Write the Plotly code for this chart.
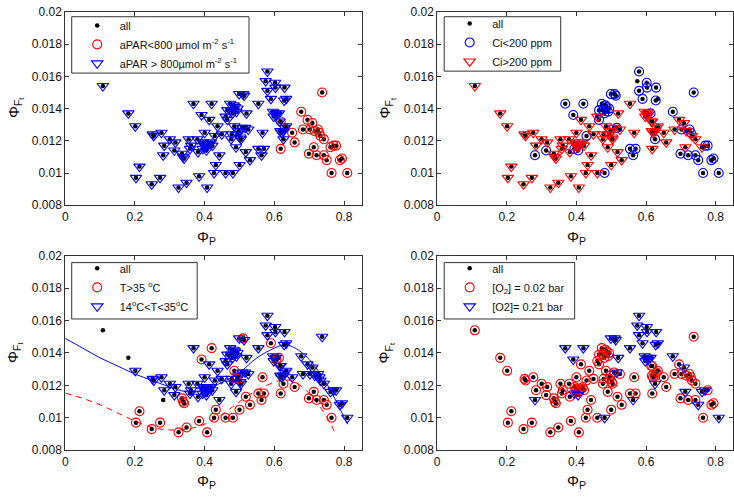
import plotly.graph_objects as go
import numpy as np

# ---------------- data ----------------
x_all = [0.108, 0.181, 0.201, 0.213, 0.203, 0.248, 0.251, 0.254, 0.276, 0.284,
         0.272, 0.281, 0.300, 0.316, 0.313, 0.325, 0.335, 0.341, 0.348, 0.354,
         0.358, 0.368, 0.379, 0.381, 0.384, 0.391, 0.394, 0.395, 0.400, 0.405,
         0.407, 0.408, 0.413, 0.418, 0.420, 0.427, 0.429, 0.432, 0.437, 0.442,
         0.449, 0.460, 0.460, 0.465, 0.473, 0.476, 0.481, 0.485, 0.487, 0.490,
         0.494, 0.494, 0.499, 0.500, 0.502, 0.508, 0.510, 0.513, 0.516, 0.518,
         0.520, 0.525, 0.530, 0.554, 0.554, 0.563, 0.566, 0.570, 0.575, 0.580,
         0.580, 0.590, 0.596, 0.602, 0.603, 0.604, 0.613, 0.618, 0.620, 0.618,
         0.626, 0.628, 0.629, 0.634, 0.630, 0.651, 0.658, 0.677, 0.682, 0.695,
         0.699, 0.702, 0.709, 0.713, 0.716, 0.721, 0.725, 0.729, 0.732, 0.737,
         0.742, 0.742, 0.750, 0.761, 0.764, 0.770, 0.777, 0.788, 0.794, 0.809,
         0.338, 0.400, 0.404, 0.412, 0.422, 0.476, 0.478, 0.497, 0.504, 0.465,
         0.480, 0.483, 0.491, 0.598, 0.615, 0.617, 0.626, 0.634, 0.361, 0.399,
         0.606]
y_all = [0.0154, 0.0137, 0.0129, 0.0104, 0.0097, 0.0093, 0.0124, 0.0123, 0.0125, 0.0117,
         0.0097, 0.0111, 0.0121, 0.0119, 0.0114, 0.0091, 0.0112, 0.0109, 0.0094, 0.0121,
         0.0115, 0.0143, 0.0121, 0.0113, 0.0098, 0.0136, 0.0115, 0.0119, 0.0125, 0.0114,
         0.0091, 0.0117, 0.0133, 0.0119, 0.0143, 0.0100, 0.0123, 0.0105, 0.0129, 0.0111,
         0.0124, 0.0135, 0.0100, 0.0133, 0.0143, 0.0139, 0.0100, 0.0129, 0.0141, 0.0116,
         0.0124, 0.0140, 0.0149, 0.0105, 0.0122, 0.0128, 0.0149, 0.0148, 0.0128, 0.0113,
         0.0137, 0.0127, 0.0108, 0.0143, 0.0115, 0.0111, 0.0125, 0.0115, 0.0157, 0.0163,
         0.0151, 0.0146, 0.0138, 0.0156, 0.0153, 0.0137, 0.0137, 0.0132, 0.0125, 0.0115,
         0.0121, 0.0145, 0.0153, 0.0146, 0.0128, 0.0125, 0.0119, 0.0138, 0.0127, 0.0133,
         0.0112, 0.0127, 0.0131, 0.0116, 0.0126, 0.0111, 0.0127, 0.0125, 0.0123, 0.0150,
         0.0111, 0.0121, 0.0108, 0.0116, 0.0100, 0.0117, 0.0117, 0.0108, 0.0109, 0.0100,
         0.0110, 0.0118, 0.0116, 0.0118, 0.0117, 0.0121, 0.0124, 0.0126, 0.0121, 0.0139,
         0.0137, 0.0142, 0.0138, 0.0135, 0.0132, 0.0126, 0.0126, 0.0129, 0.0117, 0.0117,
         0.0136]

# aPAR class: L = aPAR<800, H = aPAR>800
apar_grp = list("HHHHHHHHHH" "HHHHHHHHHH" "HHHHHHHHHH" "HHHHHHHHHH" "HHHHHHHHHH"
                "HHHHHHHHHH" "HHHHHHHHHH" "HHHHHHHLHL" "HHHHHLLLLL" "LLLLLLLLLL"
                "LLLLLLLLLL" "HHHHHHHHHH" "HHHHHHHHHH" "H")
# Ci class: L = Ci<200, H = Ci>200, N = none
ci_grp = list("HHHHHHHHHH" "HLHHLHHHHH" "HLHHHLLHHL" "HHHHLHLHHH" "HHHLLLLHLH"
              "HLLHHHLLLH" "HHHHLLHLNL" "LLHLLHLHHH" "LLLNHHHLHH" "LLHHHLLLHL"
              "LHLHLLLLLL" "HHHHHHHHHL" "LLLHHHHHHH" "H")
# temperature class: H = T>35, M = 14<T<35, N = none
temp_grp = list("NNMHHHMMMM" "HNMMMHHHHM" "MMMMHHMMMM" "HMMMHHMHMM" "MMHMMMHHMM"
                "HMMHMMHMMH" "MMHMHHHHMM" "MHMMMMHMMH" "HMMMMMHMMM" "HMMHMHMMMM"
                "HMHMHMMMMM" "HMMMMMMMMM" "MMMMMMMMMM" "H")
# O2 class: L = 0.02 bar, H = 0.21 bar
o2_grp = list("LLLLLLLLLL" "LHLLLLLLLL" "LHLLLHHLLH" "LLLLHLLLLL" "LLLLLLHLLL"
              "LLHLLLHHHL" "HLLHLHLLHH" "HHHHHHHLLL" "HHHHLLLHLL" "LLHHLLLLLL"
              "LLHHLHLLLH" "LLLLLLLLLL" "LLLHLLLLLL" "H")

# fitted curves (bottom-left panel)
fit_mid_x = [0, 0.05, 0.1, 0.15, 0.2, 0.25, 0.3, 0.35, 0.4, 0.45, 0.5, 0.55, 0.6,
             0.63, 0.66, 0.7, 0.75, 0.78, 0.81]
fit_mid_y = [0.0149, 0.0143, 0.0137, 0.0132, 0.0127, 0.0123, 0.0119, 0.0116, 0.0117,
             0.0122, 0.0128, 0.0137, 0.0143, 0.0145, 0.0143, 0.0136, 0.0121, 0.0109, 0.0096]
fit_hot_x = [0, 0.05, 0.1, 0.15, 0.2, 0.25, 0.3, 0.35, 0.4, 0.45, 0.5, 0.55, 0.6,
             0.63, 0.66, 0.7, 0.73, 0.76, 0.775]
fit_hot_y = [0.01153, 0.0112, 0.0108, 0.0103, 0.0098, 0.0094, 0.00925, 0.0093, 0.0096,
             0.0102, 0.0110, 0.0117, 0.0122, 0.01235, 0.0122, 0.0115, 0.0107, 0.0097, 0.0090]

x_ticks = [0, 0.2, 0.4, 0.6, 0.8]
x_tick_labels = ["0", "0.2", "0.4", "0.6", "0.8"]
y_ticks = [0.008, 0.010, 0.012, 0.014, 0.016, 0.018, 0.020]
y_tick_labels = ["0.008", "0.01", "0.012", "0.014", "0.016", "0.018", "0.02"]

# ---------------- figure ----------------
W, H = 734, 498
FONT = "Liberation Sans, Arial, Helvetica, sans-serif"
RED = "#ff0000"
BLUE = "#0000ff"

xa = np.array(x_all)
ya = np.array(y_all)

fig = go.Figure()

def ax_names(n):
    s = "" if n == 1 else str(n)
    return "x" + s, "y" + s

def add_all(n, legend):
    xn, yn = ax_names(n)
    fig.add_trace(go.Scatter(x=xa, y=ya, mode="markers", name="all",
                             marker=dict(color="black", size=4.5, symbol="circle"),
                             xaxis=xn, yaxis=yn, legend=legend))

def add_group(n, legend, mask, name, symbol, color, size):
    xn, yn = ax_names(n)
    fig.add_trace(go.Scatter(x=xa[mask], y=ya[mask], mode="markers", name=name,
                             marker=dict(symbol=symbol, size=size, color=color,
                                         line=dict(color=color, width=1.1)),
                             xaxis=xn, yaxis=yn, legend=legend))

ap = np.array(apar_grp)
ci = np.array(ci_grp)
tg = np.array(temp_grp)
o2 = np.array(o2_grp)

# panel 1: aPAR
add_all(1, "legend")
add_group(1, "legend", ap == "L", "aPAR&lt;800 \u00b5mol m<sup>-2</sup> s<sup>-1</sup>", "circle-open", RED, 9)
add_group(1, "legend", ap == "H", "aPAR &gt; 800\u00b5mol m<sup>-2</sup> s<sup>-1</sup>", "triangle-down-open", BLUE, 10)

# panel 2: Ci
add_all(2, "legend2")
add_group(2, "legend2", ci == "L", "Ci&lt;200 ppm", "circle-open", BLUE, 9)
add_group(2, "legend2", ci == "H", "Ci&gt;200 ppm", "triangle-down-open", RED, 10)

# panel 3: temperature with fitted curves
fig.add_trace(go.Scatter(x=fit_mid_x, y=fit_mid_y, mode="lines", showlegend=False,
                         line=dict(color=BLUE, width=1, shape="spline"),
                         xaxis="x3", yaxis="y3"))
fig.add_trace(go.Scatter(x=fit_hot_x, y=fit_hot_y, mode="lines", showlegend=False,
                         line=dict(color=RED, width=1, dash="6px,5px", shape="spline"),
                         xaxis="x3", yaxis="y3"))
add_all(3, "legend3")
add_group(3, "legend3", tg == "H", "T&gt;35 <sup>o</sup>C", "circle-open", RED, 9)
add_group(3, "legend3", tg == "M", "14<sup>o</sup>C&lt;T&lt;35<sup>o</sup>C", "triangle-down-open", BLUE, 10)

# panel 4: O2
add_all(4, "legend4")
add_group(4, "legend4", o2 == "L", "[O<sub>2</sub>] = 0.02 bar", "circle-open", RED, 9)
add_group(4, "legend4", o2 == "H", "[O2]= 0.21 bar", "triangle-down-open", BLUE, 10)

# domains (pixel measured)
xl = [62.5 / W, 360 / W]
xr = [436 / W, 733 / W]
yt = [1 - 204 / H, 1 - 5 / H]
yb = [1 - 456 / H, 1 - 256 / H]

axis_common = dict(showgrid=False, zeroline=False, showline=True, linecolor="#333",
                   linewidth=1, mirror="ticks", ticks="inside", ticklen=4,
                   tickcolor="#333", tickfont=dict(family=FONT, size=12, color="#111"))

def xaxis(dom, anchor):
    return dict(domain=dom, anchor=anchor, range=[0, 0.85], tickvals=x_ticks,
                ticktext=x_tick_labels, **axis_common)

def yaxis(dom, anchor):
    return dict(domain=dom, anchor=anchor, range=[0.008, 0.02], tickvals=y_ticks,
                ticktext=y_tick_labels, **axis_common)

def legend_pos(xpx, ypx):
    return dict(x=xpx / W, y=1 - ypx / H, xanchor="left", yanchor="top",
                borderwidth=0, bgcolor="rgba(0,0,0,0)", itemwidth=35,
                font=dict(family=FONT, size=11, color="#111"),
                tracegroupgap=0, itemsizing="trace")

# legend frames (pixel boxes)
boxes = [(69, 10, 247, 68), (443, 10, 560, 66), (69, 263, 195, 321), (443, 263, 574, 321)]
shapes = [dict(type="rect", xref="paper", yref="paper",
               x0=a / W, x1=c / W, y0=1 - d / H, y1=1 - b / H,
               line=dict(color="#333", width=1), fillcolor="white", layer="above")
          for (a, b, c, d) in boxes]

fig.update_layout(
    width=W, height=H,
    margin=dict(l=0, r=0, t=0, b=0, pad=0),
    paper_bgcolor="white", plot_bgcolor="white",
    showlegend=True,
    xaxis=xaxis(xl, "y"), yaxis=yaxis(yt, "x"),
    xaxis2=xaxis(xr, "y2"), yaxis2=yaxis(yt, "x2"),
    xaxis3=xaxis(xl, "y3"), yaxis3=yaxis(yb, "x3"),
    xaxis4=xaxis(xr, "y4"), yaxis4=yaxis(yb, "x4"),
    legend=legend_pos(72, 4),
    legend2=legend_pos(446, 2),
    legend3=legend_pos(72, 254),
    legend4=legend_pos(446, 254),
    shapes=shapes,
)

# axis titles as annotations
anns = []
for (xp, yp) in [(204, 237), (576, 237), (204, 488), (576, 488)]:
    anns.append(dict(x=xp / W, y=1 - yp / H, xref="paper", yref="paper",
                     text="\u03a6<sub>P</sub>", showarrow=False,
                     font=dict(family=FONT, size=15, color="#111"),
                     xanchor="center", yanchor="middle"))
for (xp, yp) in [(12, 104), (385, 104), (12, 356), (385, 356)]:
    anns.append(dict(x=xp / W, y=1 - yp / H, xref="paper", yref="paper",
                     text="\u03a6<sub>F<sub>t</sub></sub>", showarrow=False, textangle=-90,
                     font=dict(family=FONT, size=15, color="#111"),
                     xanchor="center", yanchor="middle"))
fig.update_layout(annotations=anns)

fig.write_html("out.html", config={"displayModeBar": False},
               post_script="document.body.style.margin='0';document.body.style.padding='0';")
